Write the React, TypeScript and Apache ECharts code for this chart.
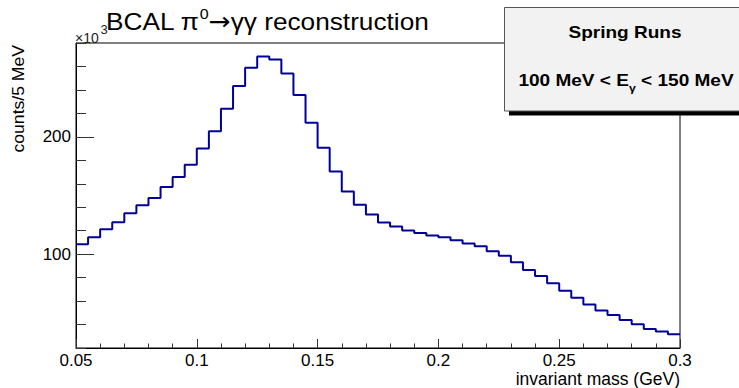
import React, { useEffect, useRef } from "react";
import * as echarts from "echarts";

// Invariant-mass histogram, 5 MeV bins from 0.05 to 0.3 GeV, counts in units of 10^3
const binStart = 0.05;
const binWidth = 0.005;
const counts = [
  108.5, 114.4, 121.2, 127.2, 134.8, 141.6, 147.9, 157.2, 165.7, 176.2,
  190.1, 204.8, 224.0, 243.3, 258.9, 268.5, 266.0, 254.1, 235.7, 212.1,
  190.6, 170.5, 153.5, 142.2, 133.8, 126.9, 123.5, 120.1, 118.1, 115.9,
  114.4, 111.9, 109.1, 106.8, 102.5, 98.6, 93.2, 86.4, 81.3, 75.1,
  68.8, 62.9, 57.0, 51.9, 48.2, 43.9, 40.2, 36.3, 34.0, 31.7,
];
const yMajorTicks = [100, 200];

const titleText = "{t|BCAL π}{sup|0}{arr|→}{t|γγ reconstruction}";
const xTitle = "invariant mass (GeV)";
const yTitle = "counts/5 MeV";
const boxLine1 = "Spring Runs";
const boxLine2 = "{b|100 MeV < E}{sub|γ}{b| < 150 MeV}";

const FONT = '"Liberation Sans", Arial, Helvetica, sans-serif';

export default function App() {
  const ref = useRef<HTMLDivElement>(null);

  useEffect(() => {
    if (!ref.current) return;
    const chart = echarts.init(ref.current, undefined, { renderer: "svg" });

    // step line drawn through bin low edges, closed at the last bin's upper edge
    const stepData: number[][] = counts.map((c, i) => [binStart + i * binWidth, c]);
    stepData.push([binStart + counts.length * binWidth, counts[counts.length - 1]]);

    const option: echarts.EChartsOption = {
      animation: false,
      backgroundColor: "#ffffff",
      textStyle: { fontFamily: FONT },
      grid: {
        left: 76,
        top: 43,
        right: 59,
        bottom: 40,
        show: true,
        borderColor: "#000",
        borderWidth: 1,
        backgroundColor: "transparent",
      },
      xAxis: {
        type: "value",
        min: 0.05,
        max: 0.3,
        interval: 0.05,
        axisLine: { show: true, lineStyle: { color: "#000", width: 1 } },
        axisTick: { show: true, inside: true, length: 9, lineStyle: { color: "#333" } },
        minorTick: { show: true, splitNumber: 5, length: 4.5, lineStyle: { color: "#333" } },
        splitLine: { show: false },
        axisLabel: {
          color: "#000",
          fontSize: 17,
          fontFamily: FONT,
          margin: 4,
          formatter: (v: number) => String(+v.toFixed(2)),
        },
      },
      yAxis: [
        {
          type: "value",
          min: 20,
          max: 280,
          interval: 20,
          axisLine: { show: true, lineStyle: { color: "#000", width: 1 } },
          axisTick: {
            show: true,
            inside: true,
            length: 18,
            customValues: yMajorTicks,
            lineStyle: { color: "#333" },
          },
          splitLine: { show: false },
          axisLabel: {
            color: "#000",
            fontSize: 17,
            fontFamily: FONT,
            margin: 5,
            customValues: yMajorTicks,
          },
        },
        {
          type: "value",
          min: 20,
          max: 280,
          interval: 20,
          position: "left",
          axisLine: { show: false },
          axisTick: { show: true, inside: true, length: 10, lineStyle: { color: "#333" } },
          splitLine: { show: false },
          axisLabel: { show: false },
        },
      ],
      series: [
        {
          type: "line",
          step: "end",
          yAxisIndex: 0,
          data: stepData,
          symbol: "none",
          lineStyle: { color: "#000099", width: 2 },
          clip: true,
        },
      ],
      graphic: [
        {
          type: "text",
          x: 106,
          y: 21,
          z: 50,
          scaleX: 1.07,
          style: {
            text: titleText,
            fontFamily: FONT,
            fontSize: 24.5,
            fill: "#000",
            verticalAlign: "middle",
            rich: {
              t: { fontSize: 24.5, lineHeight: 30, fontFamily: FONT, fill: "#000", verticalAlign: "middle" },
              arr: { fontSize: 24.5, lineHeight: 30, fontFamily: "DejaVu Sans", fill: "#000", verticalAlign: "middle" },
              sup: { fontSize: 15, lineHeight: 19, verticalAlign: "top", fontFamily: FONT, fill: "#000" },
            },
          },
        },
        {
          type: "text",
          x: 75,
          y: 44.5,
          z: 40,
          style: {
            text: "×10",
            fontFamily: FONT,
            fontSize: 14,
            fill: "#222",
            verticalAlign: "bottom",
          },
        },
        {
          type: "text",
          x: 100.5,
          y: 35.5,
          z: 40,
          style: {
            text: "3",
            fontFamily: FONT,
            fontSize: 13,
            fill: "#222",
            verticalAlign: "bottom",
          },
        },
        {
          type: "text",
          x: 19,
          y: 45,
          rotation: Math.PI / 2,
          scaleX: 1.1,
          style: {
            text: yTitle,
            fontFamily: FONT,
            fontSize: 16,
            fill: "#000",
            align: "right",
            verticalAlign: "middle",
          },
        },
        {
          type: "text",
          x: 680,
          y: 388,
          style: {
            text: xTitle,
            fontFamily: FONT,
            fontSize: 17.5,
            fill: "#000",
            align: "right",
            verticalAlign: "bottom",
          },
        },
        // stats-style box with drop shadow
        {
          type: "rect",
          z: 100,
          shape: { x: 509, y: 11, width: 260, height: 104.5 },
          style: { fill: "#000" },
        },
        {
          type: "rect",
          z: 101,
          shape: { x: 504.5, y: 7.5, width: 260, height: 103.5 },
          style: { fill: "#f2f2f2", stroke: "#555", lineWidth: 1 },
        },
        {
          type: "text",
          z: 102,
          x: 625,
          y: 32,
          scaleX: 1.12,
          style: {
            text: boxLine1,
            fontFamily: FONT,
            fontWeight: "bold",
            fontSize: 17,
            fill: "#000",
            align: "center",
            verticalAlign: "middle",
          },
        },
        {
          type: "text",
          z: 102,
          x: 626,
          y: 80,
          scaleX: 1.12,
          style: {
            text: boxLine2,
            fontFamily: FONT,
            fontWeight: "bold",
            fontSize: 17,
            fill: "#000",
            align: "center",
            verticalAlign: "middle",
            rich: {
              b: {
                fontSize: 17,
                lineHeight: 26,
                fontWeight: "bold",
                fontFamily: FONT,
                fill: "#000",
                verticalAlign: "middle",
              },
              sub: {
                fontSize: 11,
                lineHeight: 11,
                fontWeight: "bold",
                fontFamily: FONT,
                fill: "#000",
                verticalAlign: "bottom",
              },
            },
          },
        },
      ],
    };

    chart.setOption(option);
    return () => chart.dispose();
  }, []);

  return (
    <div
      ref={ref}
      style={{ position: "fixed", left: 0, top: 0, width: 739, height: 388 }}
    />
  );
}
